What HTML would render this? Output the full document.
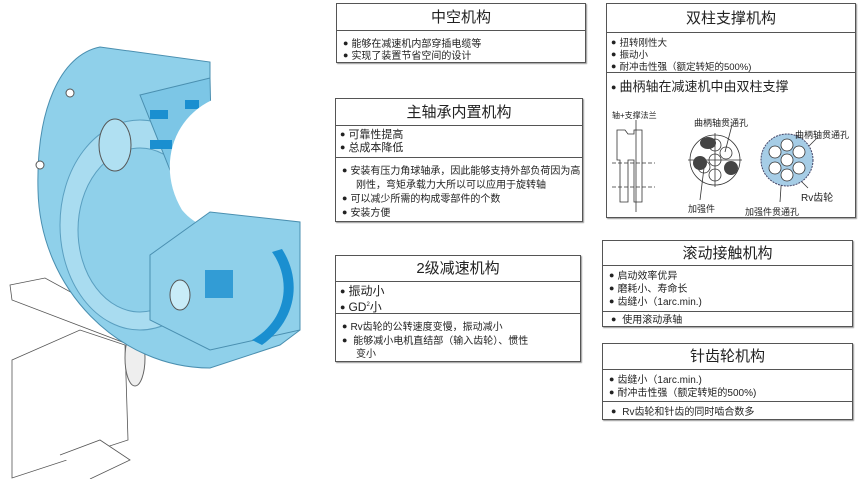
<!DOCTYPE html>
<html><head><meta charset="utf-8"><style>
body{margin:0;width:860px;height:479px;background:#fff;position:relative;overflow:hidden;font-family:"Liberation Sans","Noto Sans CJK SC",sans-serif;color:#222}
.b{position:absolute;border:1px solid #555;box-sizing:border-box;box-shadow:1px 1px 1px #999}
.t{position:absolute;left:0;right:0;text-align:center;font-size:15px;border-bottom:1px solid #555;box-sizing:border-box}
.s{position:absolute;left:0;right:0;border-bottom:1px solid #555;box-sizing:border-box}
.l{position:absolute;white-space:nowrap;font-size:10px;line-height:12px}
.l:before{content:"●";font-size:9px;margin-right:3px;vertical-align:1px}
.n{position:absolute;white-space:nowrap;font-size:9px}
</style></head><body>
<svg style="position:absolute;left:0;top:0" width="330" height="479">
<g fill="#fff" stroke="#555" stroke-width="0.8">
<path d="M10,285 L45,278 L140,330 L130,345 L12,300 Z"/>
<path d="M12,360 L80,330 L125,345 L128,440 L12,478 Z"/>
<path d="M60,455 L100,440 L130,460 L90,479"/>
</g>
<ellipse cx="135" cy="358" rx="10" ry="28" fill="#eee" stroke="#666"/>
<path d="M100,47 L210,62 L210,100 L300,245 L300,330 L280,345 L210,368 C120,368 40,290 38,190 C36,110 60,55 100,47 Z" fill="#8fd0ea" stroke="#4a8fb0"/>
<ellipse cx="140" cy="225" rx="80" ry="105" fill="#a9dcf0" stroke="#5a9fc0"/>
<ellipse cx="140" cy="230" rx="62" ry="82" fill="#8fd0ea" stroke="#5a9fc0"/>
<path d="M140,95 L210,78 L212,165 L170,170 Z" fill="#7cc6e6" stroke="#4a8fb0"/>
<rect x="150" y="110" width="18" height="9" fill="#1a8fd0"/>
<rect x="185" y="100" width="14" height="9" fill="#1a8fd0"/>
<rect x="150" y="140" width="22" height="9" fill="#1a8fd0"/>
<ellipse cx="115" cy="145" rx="16" ry="26" fill="#b0e0f2" stroke="#555"/>
<path d="M212,100 L330,100 L330,243 L300,243 C240,243 200,232 182,210 C158,170 170,120 212,100 Z" fill="#fff"/>
<path d="M150,255 L210,212 L300,222 L300,330 L210,350 L150,320 Z" fill="#8fd0ea" stroke="#4a8fb0"/>
<path d="M272,252 C292,280 287,320 252,340 L262,345 C297,320 302,280 282,249 Z" fill="#1a8fd0"/>
<rect x="205" y="270" width="28" height="28" fill="#1a8fd0" opacity=".8"/>
<ellipse cx="180" cy="295" rx="10" ry="15" fill="#c8ecf8" stroke="#555"/>
<circle cx="70" cy="93" r="4" fill="#fff" stroke="#555"/><circle cx="40" cy="165" r="4" fill="#fff" stroke="#555"/>
</svg>

<div class="b" style="left:336px;top:3px;width:250px;height:60px">
<div class="t" style="top:0;height:27px;line-height:27px">中空机构</div>
<div class="l" style="left:6px;top:33px">能够在减速机内部穿插电缆等</div>
<div class="l" style="left:6px;top:45px">实现了装置节省空间的设计</div>
</div>

<div class="b" style="left:335px;top:98px;width:248px;height:124px">
<div class="t" style="top:0;height:27px;line-height:27px">主轴承内置机构</div>
<div class="s" style="top:27px;height:32px"></div>
<div class="l" style="left:4px;top:29px;font-size:11px;line-height:13px">可靠性提高</div>
<div class="l" style="left:4px;top:42px;font-size:11px;line-height:13px">总成本降低</div>
<div class="l" style="left:6px;top:64px;line-height:14px">安装有压力角球轴承，因此能够支持外部负荷因为高<br><span style="margin-left:14px">刚性，弯矩承载力大所以可以应用于旋转轴</span></div>
<div class="l" style="left:6px;top:92px;line-height:14px">可以减少所需的构成零部件的个数</div>
<div class="l" style="left:6px;top:106px;line-height:14px">安装方便</div>
</div>

<div class="b" style="left:335px;top:255px;width:246px;height:107px">
<div class="t" style="top:0;height:26px;line-height:26px">2级减速机构</div>
<div class="s" style="top:26px;height:32px"></div>
<div class="l" style="left:4px;top:28px;font-size:12px;line-height:14px">振动小</div>
<div class="l" style="left:4px;top:42px;font-size:12px;line-height:14px">GD<sup style="font-size:6px">2</sup>小</div>
<div class="l" style="left:6px;top:64px">Rv齿轮的公转速度变慢，振动减小</div>
<div class="l" style="left:6px;top:78px">&nbsp;能够减小电机直结部（输入齿轮）、惯性</div>
<div class="n" style="left:20px;top:89px;font-size:10px">变小</div>
</div>

<div class="b" style="left:606px;top:3px;width:250px;height:215px">
<div class="t" style="top:0;height:29px;line-height:29px">双柱支撑机构</div>
<div class="s" style="top:29px;height:40px"></div>
<div class="l" style="left:4px;top:32px;font-size:9.5px">扭转刚性大</div>
<div class="l" style="left:4px;top:44px;font-size:9.5px">振动小</div>
<div class="l" style="left:4px;top:56px;font-size:9.5px">耐冲击性强（额定转矩的500%)</div>
<div class="l" style="left:4px;top:75px;font-size:13px;line-height:16px">曲柄轴在减速机中由双柱支撑</div>
</div>
<svg style="position:absolute;left:0;top:0" width="860" height="479">
<g fill="none" stroke="#333" stroke-width="0.8">
<path d="M617,130 L625,130 L628,134 L634,134 L634,130 L642,130 L642,202 L634,202 L634,160 L628,160 L628,202 L620,202 L620,160 L617,160 Z"/>
<line x1="636" y1="120" x2="636" y2="212"/>
<line x1="612" y1="163" x2="655" y2="163" stroke-dasharray="4,2"/>
<line x1="612" y1="187" x2="655" y2="187" stroke-dasharray="4,2"/>
<circle cx="715" cy="160" r="25"/>
<line x1="688" y1="160" x2="742" y2="160"/><line x1="715" y1="133" x2="715" y2="187"/>
<circle cx="715" cy="160" r="6"/>
<circle cx="704" cy="167" r="6"/><circle cx="726" cy="153" r="6"/><circle cx="715" cy="175" r="6"/><circle cx="715" cy="145" r="6"/>
<line x1="725" y1="152" x2="732" y2="125"/><line x1="704" y1="168" x2="700" y2="200"/>
<line x1="805" y1="150" x2="818" y2="137"/><line x1="782" y1="172" x2="780" y2="202"/><line x1="800" y1="180" x2="808" y2="188"/>
</g>
<g fill="#444"><ellipse cx="708" cy="143" rx="8" ry="6"/><ellipse cx="700" cy="163" rx="7" ry="7"/><ellipse cx="731" cy="168" rx="7" ry="7"/></g>
<circle cx="787" cy="160" r="26" fill="#a6cde6" stroke="#446" stroke-dasharray="2,1"/>
<g fill="#fff" stroke="#333" stroke-width="0.8"><circle cx="787" cy="160" r="6"/><circle cx="775" cy="152" r="6"/><circle cx="799" cy="152" r="6"/><circle cx="775" cy="168" r="6"/><circle cx="799" cy="168" r="6"/><circle cx="787" cy="145" r="6"/><circle cx="787" cy="175" r="6"/></g>
</svg>
<div class="n" style="left:612px;top:110px;font-size:8px">轴+支撑法兰</div>
<div class="n" style="left:694px;top:116px">曲柄轴贯通孔</div>
<div class="n" style="left:795px;top:128px">曲柄轴贯通孔</div>
<div class="n" style="left:688px;top:202px">加强件</div>
<div class="n" style="left:745px;top:205px">加强件贯通孔</div>
<div class="n" style="left:801px;top:189px;font-size:10px">Rv齿轮</div>

<div class="b" style="left:602px;top:240px;width:251px;height:87px">
<div class="t" style="top:0;height:25px;line-height:25px">滚动接触机构</div>
<div class="s" style="top:25px;height:46px"></div>
<div class="l" style="left:6px;top:28px">启动效率优异</div>
<div class="l" style="left:6px;top:41px">磨耗小、寿命长</div>
<div class="l" style="left:6px;top:54px">齿缝小（1arc.min.)</div>
<div class="l" style="left:8px;top:72px">&nbsp;使用滚动承轴</div>
</div>

<div class="b" style="left:602px;top:343px;width:251px;height:77px">
<div class="t" style="top:0;height:26px;line-height:26px">针齿轮机构</div>
<div class="s" style="top:26px;height:32px"></div>
<div class="l" style="left:6px;top:29px">齿缝小（1arc.min.)</div>
<div class="l" style="left:6px;top:42px">耐冲击性强（额定转矩的500%)</div>
<div class="l" style="left:8px;top:61px">&nbsp;Rv齿轮和针齿的同时啮合数多</div>
</div>
</body></html>
